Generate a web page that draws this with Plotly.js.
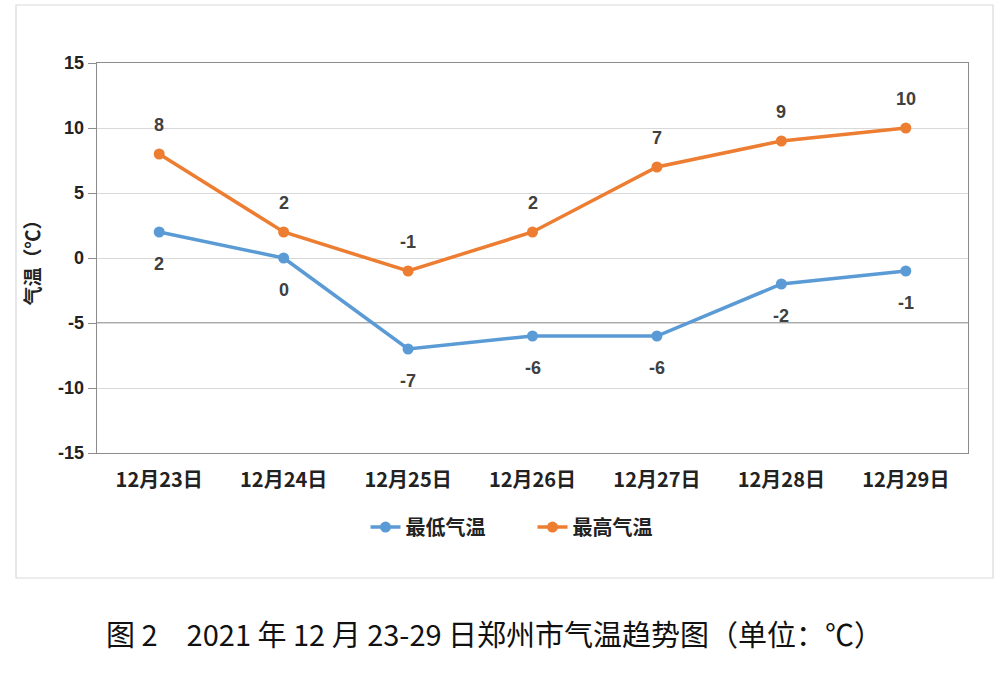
<!DOCTYPE html>
<html><head><meta charset="utf-8">
<script src="https://cdn.plot.ly/plotly-3.0.1.min.js"></script>
<style>body{margin:0;background:#fff}#c{width:1002px;height:676px}</style>
</head><body><div id="c"></div>
<script>
const categories = ["12月23日","12月24日","12月25日","12月26日","12月27日","12月28日","12月29日"];
const minTemp = [2, 0, -7, -6, -6, -2, -1];
const maxTemp = [8, 2, -1, 2, 7, 9, 10];
const yTicks = [15, 10, 5, 0, -5, -10, -15];
const seriesNames = ["最低气温", "最高气温"];
const captionText = "图 2　2021 年 12 月 23-29 日郑州市气温趋势图（单位：℃）";
const axisTitle = "气温（℃）";

const cjk = '"Noto Sans CJK SC", "Noto Sans", sans-serif';
const num = '"Liberation Sans", Arial, sans-serif';
const blue = "#5b9bd5", orange = "#ed7d31";

const traces = [
  {x: categories, y: minTemp, name: seriesNames[0], type: "scatter", mode: "lines+markers",
   line: {color: blue, width: 3.5}, marker: {color: blue, size: 11}},
  {x: categories, y: maxTemp, name: seriesNames[1], type: "scatter", mode: "lines+markers",
   line: {color: orange, width: 3.5}, marker: {color: orange, size: 11}}
];

const labelFont = {family: num, size: 18, color: "#404040", weight: "bold"};
const annotations = [];
categories.forEach((c, i) => {
  annotations.push({x: c, y: minTemp[i], xref: "x", yref: "y", text: String(minTemp[i]),
    showarrow: false, yshift: -32, font: labelFont});
  annotations.push({x: c, y: maxTemp[i], xref: "x", yref: "y", text: String(maxTemp[i]),
    showarrow: false, yshift: 29, font: labelFont});
});
annotations.push({x: 0.4558, y: -0.4615, xref: "paper", yref: "paper", text: captionText,
  showarrow: false, xanchor: "center", yanchor: "middle",
  font: {family: cjk, size: 29, color: "#111"}});

const layout = {
  width: 1002, height: 676,
  margin: {l: 97, r: 34, t: 63, b: 223},
  paper_bgcolor: "#fff", plot_bgcolor: "#fff",
  showlegend: true,
  legend: {orientation: "h", x: 0.5, y: -0.19, xanchor: "center", yanchor: "middle",
    font: {family: cjk, size: 20, color: "#222", weight: "bold"}, itemwidth: 30,
    entrywidth: 122},
  xaxis: {type: "category", range: [-0.5, 6.5], showgrid: false, zeroline: false,
    showline: true, linecolor: "#8c8c8c", linewidth: 1.3, mirror: true,
    ticks: "", tickfont: {family: cjk, size: 20, color: "#222", weight: "bold"}, ticklabelstandoff: 9},
  yaxis: {range: [-15, 15], tickvals: yTicks, ticktext: yTicks.map(String),
    showgrid: true, gridcolor: "#d9d9d9", gridwidth: 1, zeroline: false,
    showline: true, linecolor: "#8c8c8c", linewidth: 1.3, mirror: true,
    ticks: "outside", ticklen: 8, tickcolor: "#8c8c8c",
    tickfont: {family: num, size: 18, color: "#222", weight: "bold"},
    title: {text: axisTitle, standoff: 12, font: {family: cjk, size: 19, color: "#222", weight: "bold"}}},
  shapes: [
    {type: "rect", xref: "paper", yref: "paper", x0: -0.093, x1: 1.0287, y0: -0.3205, y1: 1.1487,
     line: {color: "#d9d9d9", width: 1.2}, fillcolor: "rgba(0,0,0,0)", layer: "below"},
    {type: "line", xref: "paper", yref: "y", x0: 0, x1: 1, y0: yTicks[4], y1: yTicks[4],
     line: {color: "#8c8c8c", width: 1.3}, layer: "below"}
  ],
  annotations: annotations
};

Plotly.newPlot("c", traces, layout, {displayModeBar: false, staticPlot: true});
</script></body></html>
